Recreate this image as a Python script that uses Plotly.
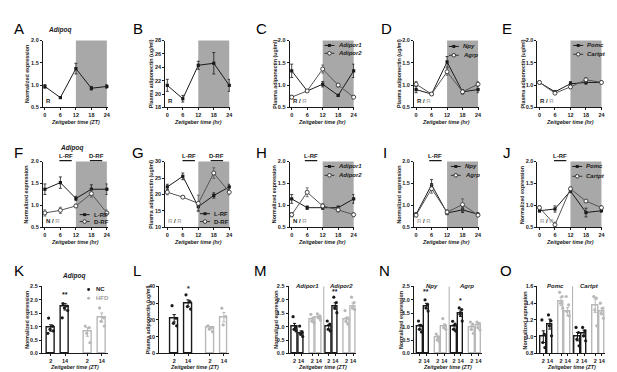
import plotly.graph_objects as go

# ---------------- data ----------------
zt = [0, 6, 12, 18, 24]
zt_labels = ["0", "6", "12", "18", "24"]

a_adipoq = [0.97, 0.72, 1.37, 0.93, 0.97]
a_adipoq_sem = [0.04, 0.02, 0.12, 0.04, 0.04]

b_adiponectin = [21.3, 19.3, 24.3, 24.6, 21.3]
b_adiponectin_sem = [0.9, 0.5, 0.6, 1.6, 0.9]

c_adipor1 = [1.32, 0.87, 1.02, 0.77, 1.32]
c_adipor1_sem = [0.15, 0.03, 0.06, 0.02, 0.15]
c_adipor2 = [0.73, 0.87, 1.36, 1.00, 0.73]
c_adipor2_sem = [0.04, 0.03, 0.09, 0.04, 0.04]

d_npy = [0.90, 0.80, 1.52, 0.85, 0.90]
d_npy_sem = [0.07, 0.03, 0.12, 0.05, 0.07]
d_agrp = [1.02, 0.80, 1.30, 0.85, 1.02]
d_agrp_sem = [0.06, 0.03, 0.08, 0.04, 0.06]

e_pomc = [1.06, 0.85, 1.03, 1.06, 1.06]
e_pomc_sem = [0.03, 0.02, 0.05, 0.04, 0.03]
e_cartpt = [1.06, 0.82, 0.96, 1.12, 1.06]
e_cartpt_sem = [0.03, 0.02, 0.04, 0.05, 0.03]

f_lrf = [1.37, 1.52, 1.16, 1.37, 1.37]
f_lrf_sem = [0.12, 0.13, 0.05, 0.10, 0.12]
f_drf = [0.83, 0.89, 0.99, 1.27, 0.83]
f_drf_sem = [0.07, 0.07, 0.04, 0.08, 0.07]

g_lrf = [22.3, 25.5, 16.3, 19.7, 22.3]
g_lrf_sem = [0.8, 1.0, 1.2, 0.8, 0.8]
g_drf = [20.7, 19.2, 17.3, 26.5, 20.7]
g_drf_sem = [0.8, 0.4, 2.5, 1.6, 0.8]

h_adipor1 = [1.15, 0.95, 0.95, 0.95, 1.15]
h_adipor1_sem = [0.10, 0.04, 0.04, 0.04, 0.10]
h_adipor2 = [0.79, 1.30, 0.99, 0.90, 0.79]
h_adipor2_sem = [0.05, 0.10, 0.05, 0.05, 0.05]

i_npy = [0.80, 1.47, 0.83, 0.90, 0.80]
i_npy_sem = [0.04, 0.12, 0.04, 0.06, 0.04]
i_agrp = [0.78, 1.38, 0.85, 1.02, 0.78]
i_agrp_sem = [0.04, 0.10, 0.05, 0.13, 0.04]

j_pomc = [0.88, 0.92, 1.33, 0.84, 0.88]
j_pomc_sem = [0.03, 0.07, 0.04, 0.10, 0.03]
j_cartpt = [0.95, 0.56, 1.38, 1.10, 0.95]
j_cartpt_sem = [0.04, 0.06, 0.04, 0.03, 0.04]

# bar panels: [gene][ZT2, ZT14]
bar_zt = ["2", "14"]

k_genes = ["Adipoq"]
k_nc = [[0.95, 1.74]]
k_nc_sem = [[0.12, 0.12]]
k_hfd = [[0.80, 1.34]]
k_hfd_sem = [[0.16, 0.17]]
k_nc_pts = [[[1.32, 1.02, 0.90, 0.84, 0.75], [1.86, 1.77, 1.70, 1.60, 1.33]]]
k_hfd_pts = [[[1.02, 0.96, 0.75, 0.40], [1.70, 1.33, 1.20, 1.02]]]

l_genes = ["Adiponectin"]
l_nc = [[21.0, 30.0]]
l_nc_sem = [[2.2, 2.0]]
l_hfd = [[15.2, 21.7]]
l_hfd_sem = [[0.9, 2.8]]
l_nc_pts = [[[28.5, 21.0, 18.0, 16.5], [35.0, 31.0, 28.0, 26.5]]]
l_hfd_pts = [[[16.5, 15.5, 14.5, 13.0], [27.0, 22.0, 17.0]]]

m_genes = ["Adipor1", "Adipor2"]
m_nc = [[1.00, 0.76], [0.99, 1.77]]
m_nc_sem = [[0.12, 0.08], [0.08, 0.12]]
m_hfd = [[1.25, 1.36], [1.25, 1.77]]
m_hfd_sem = [[0.07, 0.05], [0.10, 0.11]]
m_nc_pts = [[[1.37, 0.96, 0.90, 0.84], [1.02, 0.80, 0.72, 0.63]],
            [[1.21, 1.09, 0.90, 0.84], [2.10, 1.90, 1.70, 1.52]]]
m_hfd_pts = [[[1.46, 1.33, 1.21, 1.15], [1.48, 1.40, 1.33, 1.25]],
             [[1.60, 1.33, 1.21, 1.09], [2.10, 1.90, 1.70, 1.64]]]

n_genes = ["Npy", "Agrp"]
n_nc = [[0.99, 1.77], [0.99, 1.48]]
n_nc_sem = [[0.09, 0.10], [0.08, 0.10]]
n_hfd = [[0.60, 1.02], [0.96, 1.05]]
n_hfd_sem = [[0.06, 0.08], [0.09, 0.07]]
n_nc_pts = [[[1.21, 1.05, 0.90, 0.80], [2.00, 1.83, 1.70, 1.58]],
            [[1.20, 1.09, 0.90, 0.84], [1.70, 1.64, 1.46, 1.21]]]
n_hfd_pts = [[[0.72, 0.60, 0.50, 0.44], [1.30, 1.05, 0.96, 0.90]],
             [[1.17, 1.09, 0.90, 0.75], [1.17, 1.12, 0.96, 0.88]]]

o_genes = ["Pomc", "Cartpt"]
o_nc = [[1.00, 1.15], [1.00, 1.04]]
o_nc_sem = [[0.07, 0.06], [0.05, 0.04]]
o_hfd = [[1.42, 1.30], [1.37, 1.30]]
o_hfd_sem = [[0.05, 0.05], [0.08, 0.04]]
o_nc_pts = [[[1.20, 1.03, 0.93, 0.87], [1.26, 1.19, 1.13, 1.01]],
            [[1.11, 1.05, 0.97, 0.89], [1.11, 1.07, 1.01, 0.95]]]
o_hfd_pts = [[[1.53, 1.48, 1.40, 1.34], [1.48, 1.38, 1.30, 1.25]],
             [[1.48, 1.46, 1.32, 1.13], [1.40, 1.34, 1.28, 1.22]]]

# ---------------- style ----------------
W, H = 617, 372
FONT = "Liberation Sans"
BLACK = "#1a1a1a"
OPEN_C = "#555555"
SHADE = "#a8a8a8"
HFD_C = "#b8b8b8"


def fx(p):
    return p / W


def fy(p):
    return 1 - p / H


fig = go.Figure()
layout = {}
shapes = []
annotations = []


def names(i):
    s = "" if i == 1 else str(i)
    return "x" + s, "y" + s, "xaxis" + s, "yaxis" + s


def base_axis():
    return dict(showline=True, linecolor=BLACK, linewidth=1, ticks="outside",
                ticklen=2, tickwidth=1, tickcolor=BLACK, showgrid=False,
                zeroline=False, fixedrange=True, tickangle=0,
                tickfont=dict(family=FONT, size=5.5, color=BLACK, weight="bold"))


def text(x, y, t, size=6, color=BLACK, xanchor="center", yanchor="middle",
         xref="paper", yref="paper", angle=0):
    annotations.append(dict(x=x, y=y, xref=xref, yref=yref, text=t, showarrow=False,
                            xanchor=xanchor, yanchor=yanchor, textangle=angle,
                            font=dict(family=FONT, size=size, color=color)))


def panel_letter(px, py, L):
    text(fx(px), fy(py), L, size=15, color="#000000")


def axis_titles(left, right, top, bottom, ytitle, xtitle, ydx, xty):
    text(fx(left - ydx), fy((top + bottom) / 2), "<b>" + ytitle + "</b>", size=5.3, angle=-90)
    text(fx((left + right) / 2), fy(xty), "<b><i>" + xtitle + "</i></b>", size=5.3)


def legend_entry(xc, yc, filled, label, color):
    shapes.append(dict(type="line", xref="paper", yref="paper", x0=fx(xc - 5), x1=fx(xc + 5),
                       y0=fy(yc), y1=fy(yc), line=dict(color=color, width=1)))
    r = 1.5
    if filled:
        shapes.append(dict(type="rect", xref="paper", yref="paper", x0=fx(xc - r), x1=fx(xc + r),
                           y0=fy(yc + r), y1=fy(yc - r), fillcolor=color, line=dict(width=0)))
    else:
        shapes.append(dict(type="circle", xref="paper", yref="paper", x0=fx(xc - 1.8), x1=fx(xc + 1.8),
                           y0=fy(yc + 1.8), y1=fy(yc - 1.8), fillcolor="white",
                           line=dict(color=color, width=1)))
    text(fx(xc + 7), fy(yc), label, size=6, xanchor="left")


def line_panel(i, left, top, bottom, yr, ytv, yfmt, ytitle, xtitle, series, corner,
               legend=None, ydx=15):
    xr_, yr_, xk, yk = names(i)
    right = left + 65
    ax = base_axis()
    ax.update(domain=[fx(left), fx(right)], range=[-0.8, 24.25], anchor=yr_,
              tickvals=zt, ticktext=zt_labels)
    ay = base_axis()
    ay.update(domain=[fy(bottom), fy(top)], range=yr, anchor=xr_, tickvals=ytv,
              tickformat=yfmt)
    layout[xk] = ax
    layout[yk] = ay
    shapes.append(dict(type="rect", xref=xr_, yref=yr_ + " domain", x0=12, x1=24, y0=0, y1=1,
                       fillcolor=SHADE, line=dict(width=0), layer="below"))
    for vals, sem, filled in series:
        if filled:
            col = BLACK
            mk = dict(symbol="square", size=3.2, color=col)
        else:
            col = OPEN_C
            mk = dict(symbol="circle", size=4, color="white", line=dict(color="#333333", width=0.9))
        fig.add_trace(go.Scatter(x=zt, y=vals, mode="lines+markers", xaxis=xr_, yaxis=yr_,
                                 line=dict(color=col, width=1), marker=mk, cliponaxis=False,
                                 error_y=dict(type="data", array=sem, color=col, thickness=0.8,
                                              width=1.5),
                                 showlegend=False, hoverinfo="skip"))
    text(-0.4, 0.02, corner, size=6, xanchor="left", yanchor="bottom", xref=xr_,
         yref=yr_ + " domain")
    axis_titles(left, right, top, bottom, ytitle, xtitle, ydx, bottom + 15)
    if legend:
        xc, ys, labels = legend
        for (lab, (vals, sem, filled)), yc in zip(zip(labels, series), ys):
            legend_entry(xc, yc, filled, lab, BLACK if filled else "#333333")


def rf_label(i, xc, label, py_text=147.5, py_line=152):
    xr_, yr_, _, _ = names(i)
    text(xc, fy(py_text), "<b>" + label + "</b>", size=6, xref=xr_)
    shapes.append(dict(type="line", xref=xr_, yref="paper", x0=xc - 2.4, x1=xc + 2.4,
                       y0=fy(py_line), y1=fy(py_line), line=dict(color=BLACK, width=1.3)))


def bar_panel(i, left, right, top, bottom, xr, yr, ytv, yfmt, genes, nc, nc_sem, nc_pts,
              hfd, hfd_sem, hfd_pts, within_nc, within_hfd, gap, bw, jit, stars,
              gene_labels=True, ytitle="Normalized expression", ydx=15):
    xr_, yr_, xk, yk = names(i)
    tv, tt = [], []
    for g in range(len(genes)):
        off = g * gap
        nc_pos = [off + p for p in within_nc]
        hfd_pos = [off + p for p in within_hfd]
        for pos, mean, sem, pts, col in ((nc_pos, nc[g], nc_sem[g], nc_pts[g], BLACK),
                                          (hfd_pos, hfd[g], hfd_sem[g], hfd_pts[g], HFD_C)):
            fig.add_trace(go.Bar(x=pos, y=mean, width=bw, xaxis=xr_, yaxis=yr_,
                                 marker=dict(color="white", line=dict(color=col, width=1.4)),
                                 error_y=dict(type="data", array=sem, color=col, thickness=1,
                                              width=1.6),
                                 showlegend=False, hoverinfo="skip"))
            dx, dy = [], []
            for p, vals in zip(pos, pts):
                for k, v in enumerate(vals):
                    dx.append(p + jit[k % len(jit)])
                    dy.append(v)
            fig.add_trace(go.Scatter(x=dx, y=dy, mode="markers", xaxis=xr_, yaxis=yr_,
                                     marker=dict(size=3.2, color=col), cliponaxis=False,
                                     showlegend=False, hoverinfo="skip"))
            tv += pos
            tt += bar_zt
        if gene_labels:
            text((nc_pos[0] + hfd_pos[1]) / 2, 1.0, "<b><i>" + genes[g] + "</i></b>", size=6,
                 xref=xr_, yref=yr_ + " domain", yanchor="middle")
        if g > 0:
            xd = off - (gap - within_hfd[1]) / 2
            shapes.append(dict(type="line", xref=xr_, yref=yr_ + " domain", x0=xd, x1=xd,
                               y0=0, y1=1, line=dict(color="#999999", width=0.8)))
    for g, zi, s, y in stars:
        text(g * gap + within_nc[zi], y, "<b>" + s + "</b>", size=7, xref=xr_, yref=yr_)
    ax = base_axis()
    ax.update(domain=[fx(left), fx(right)], range=xr, anchor=yr_, tickvals=tv, ticktext=tt)
    ay = base_axis()
    ay.update(domain=[fy(bottom), fy(top)], range=yr, anchor=xr_, tickvals=ytv, tickformat=yfmt)
    layout[xk] = ax
    layout[yk] = ay
    axis_titles(left, right, top, bottom, ytitle, "Zeitgeber time (ZT)", ydx, bottom + 14)


GRAYR = '<span style="color:#b0b0b0">R</span>'
R1T, R1B = 30, 98
R2T, R2B = 153, 220
LEFTS = [35, 158, 283, 408, 532]
NORM = "Normalized expression"
PLAS = "Plasma adiponectin (ug/ml)"
t05 = [0.5, 1.0, 1.5, 2.0]

# ---- row 1 ----
line_panel(1, LEFTS[0], R1T, R1B, [0.5, 2.0], t05, ".1f", NORM, "Zeitgeber time (ZT)",
           [(a_adipoq, a_adipoq_sem, True)], "<b>R</b>", ydx=16)
text(fx(52), fy(19), "<b><i>Adipoq</i></b>", size=6.5)
line_panel(2, LEFTS[1], R1T, R1B, [18, 28], [18, 20, 22, 24, 26, 28], "d", PLAS,
           "Zeitgeber time (hr)", [(b_adiponectin, b_adiponectin_sem, True)], "<b>R</b>", ydx=14)
line_panel(3, LEFTS[2], R1T, R1B, [0.5, 2.0], t05, ".1f", PLAS, "Zeitgeber time (hr)",
           [(c_adipor1, c_adipor1_sem, True), (c_adipor2, c_adipor2_sem, False)],
           "<b>R / " + GRAYR + "</b>", legend=(323, [35, 43], ["<b><i>Adipor1</i></b>", "<b><i>Adipor2</i></b>"]))
line_panel(4, LEFTS[3], R1T, R1B, [0.5, 2.0], t05, ".1f", PLAS, "Zeitgeber time (hr)",
           [(d_npy, d_npy_sem, True), (d_agrp, d_agrp_sem, False)],
           "<b>R / " + GRAYR + "</b>", legend=(448, [36, 45], ["<b><i>Npy</i></b>", "<b><i>Agrp</i></b>"]))
line_panel(5, LEFTS[4], R1T, R1B, [0.5, 2.0], t05, ".1f", PLAS, "Zeitgeber time (hr)",
           [(e_pomc, e_pomc_sem, True), (e_cartpt, e_cartpt_sem, False)],
           "<b>R / " + GRAYR + "</b>", legend=(573, [35, 44], ["<b><i>Pomc</i></b>", "<b><i>Cartpt</i></b>"]))

# ---- row 2 ----
line_panel(6, LEFTS[0], R2T, R2B, [0.5, 2.0], t05, ".1f", NORM, "Zeitgeber time (hr)",
           [(f_lrf, f_lrf_sem, True), (f_drf, f_drf_sem, False)],
           "<b>N / " + GRAYR + "</b>", legend=(77, [207, 214], ["<b>L-RF</b>", "<b>D-RF</b>"]), ydx=16)
text(fx(64), fy(139), "<b><i>Adipoq</i></b>", size=6.5)
rf_label(6, 8, "L-RF")
rf_label(6, 19.8, "D-RF")
line_panel(7, LEFTS[1], R2T, R2B, [10, 30], [10, 15, 20, 25, 30], "d", PLAS,
           "Zeitgeber time (hr)", [(g_lrf, g_lrf_sem, True), (g_drf, g_drf_sem, False)],
           "<b>" + GRAYR + " / " + GRAYR + "</b>", legend=(198, [206, 214], ["<b>L-RF</b>", "<b>D-RF</b>"]), ydx=14)
rf_label(7, 8.3, "L-RF")
rf_label(7, 19.2, "D-RF")
line_panel(8, LEFTS[2], R2T, R2B, [0.5, 2.0], t05, ".1f", NORM, "Zeitgeber time (hr)",
           [(h_adipor1, h_adipor1_sem, True), (h_adipor2, h_adipor2_sem, False)],
           "<b>N / " + GRAYR + "</b>", legend=(323, [158, 167], ["<b><i>Adipor1</i></b>", "<b><i>Adipor2</i></b>"]))
rf_label(8, 7.5, "L-RF")
line_panel(9, LEFTS[3], R2T, R2B, [0.5, 2.0], t05, ".1f", NORM, "Zeitgeber time (hr)",
           [(i_npy, i_npy_sem, True), (i_agrp, i_agrp_sem, False)],
           "<b>" + GRAYR + " / " + GRAYR + "</b>", legend=(450, [158, 167], ["<b><i>Npy</i></b>", "<b><i>Agrp</i></b>"]))
rf_label(9, 7.5, "L-RF")
line_panel(10, LEFTS[4], R2T, R2B, [0.5, 2.0], t05, ".1f", NORM, "Zeitgeber time (hr)",
           [(j_pomc, j_pomc_sem, True), (j_cartpt, j_cartpt_sem, False)],
           "<b>" + GRAYR + " / " + GRAYR + "</b>", legend=(572, [158, 168], ["<b><i>Pomc</i></b>", "<b><i>Cartpt</i></b>"]))
rf_label(10, 8, "L-RF")

# ---- row 3 ----
R3T, R3B = 280, 348
t25 = [0.0, 0.5, 1.0, 1.5, 2.0, 2.5]
jk = [-0.15, 0.13, -0.05, 0.18, -0.2]
jm = [-0.22, 0.16, -0.08, 0.24]
bar_panel(11, 34, 100, R3T, R3B, [-0.62, 3.95], [0, 2.5], t25, ".1f", k_genes,
          k_nc, k_nc_sem, k_nc_pts, k_hfd, k_hfd_sem, k_hfd_pts, [0, 1], [2.55, 3.55], 5,
          0.55, jk, [(0, 1, "**", 2.2)], gene_labels=False, ydx=15)
text(fx(66), fy(269), "<b><i>Adipoq</i></b>", size=6.5)
shapes.append(dict(type="circle", xref="paper", yref="paper", x0=fx(79.5), x1=fx(82.5),
                   y0=fy(284.5), y1=fy(281.5), fillcolor=BLACK, line=dict(width=0)))
shapes.append(dict(type="circle", xref="paper", yref="paper", x0=fx(79.5), x1=fx(82.5),
                   y0=fy(293.5), y1=fy(290.5), fillcolor=HFD_C, line=dict(width=0)))
text(fx(86), fy(283), "<b>NC</b>", size=6, xanchor="left")
text(fx(86), fy(292), "<b>HFD</b>", size=6, color="#a0a0a0", xanchor="left")

bar_panel(12, 152, 222, R3T, R3B, [-1.07, 3.93], [0, 40], [0, 10, 20, 30, 40], "d", l_genes,
          l_nc, l_nc_sem, l_nc_pts, l_hfd, l_hfd_sem, l_hfd_pts, [0, 1], [2.57, 3.57], 5,
          0.55, jk, [(0, 1, "*", 38.5)], gene_labels=False, ytitle=PLAS, ydx=11)

bar_panel(13, 282, 350, R3T, R3B, [-0.9, 9.4], [0, 2.5], t25, ".1f", m_genes,
          m_nc, m_nc_sem, m_nc_pts, m_hfd, m_hfd_sem, m_hfd_pts, [0, 1], [2.7, 3.7], 5.2,
          0.85, jm, [(1, 1, "**", 2.32)], ydx=13)
bar_panel(14, 408, 476, R3T, R3B, [-0.9, 9.4], [0, 2.5], t25, ".1f", n_genes,
          n_nc, n_nc_sem, n_nc_pts, n_hfd, n_hfd_sem, n_hfd_pts, [0, 1], [2.7, 3.7], 5.2,
          0.85, jm, [(0, 1, "**", 2.32), (1, 1, "*", 1.97)], ydx=13)
bar_panel(15, 532, 600, R3T, R3B, [-0.9, 9.4], [0.8, 1.6], [0.8, 1.0, 1.2, 1.4, 1.6], ".1f",
          o_genes, o_nc, o_nc_sem, o_nc_pts, o_hfd, o_hfd_sem, o_hfd_pts, [0, 1], [2.7, 3.7],
          5.2, 0.85, jm, [], ydx=13)

# ---- panel letters ----
for L, px, py in [("A", 11, 18), ("B", 131, 18), ("C", 255, 18), ("D", 380, 18), ("E", 501, 18),
                  ("F", 11, 144), ("G", 131, 144), ("H", 255, 144), ("I", 379, 144), ("J", 501, 144),
                  ("K", 11, 264), ("L", 130, 264), ("M", 254, 264), ("N", 378, 264), ("O", 500, 264)]:
    panel_letter(px, py, L)

layout.update(width=W, height=H, margin=dict(l=0, r=0, t=0, b=0), paper_bgcolor="white",
              plot_bgcolor="white", showlegend=False, shapes=shapes, annotations=annotations,
              font=dict(family=FONT, color=BLACK), bargap=0)
fig.update_layout(**layout)
fig.write_html("out.html", config={"displayModeBar": False})
